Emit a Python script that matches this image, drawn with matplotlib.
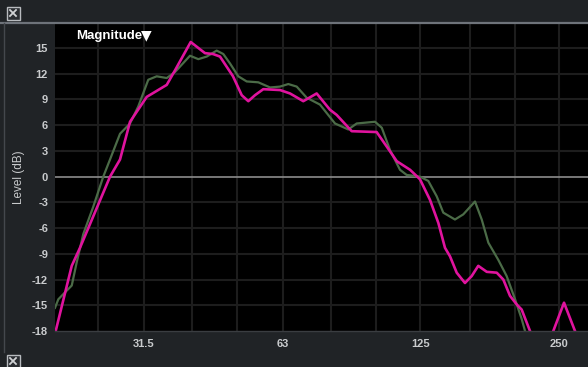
import matplotlib
matplotlib.use("Agg")
import matplotlib.pyplot as plt
from matplotlib.patches import Rectangle
from matplotlib.lines import Line2D

plt.rcParams['font.family'] = ['Liberation Sans', 'DejaVu Sans']

# ---- data ----
magenta_freq = [20.28, 21.97, 22.89, 26.59, 27.95, 29.38, 31.93, 35.28, 36.77, 39.76,
                42.70, 44.44, 46.01, 49.10, 51.28, 52.99, 54.79, 57.10, 62.06, 65.24,
                69.71, 74.52, 79.63, 82.33, 88.74, 100.5, 105.7, 111.1, 118.7, 124.7,
                131.1, 136.7, 141.3, 144.9, 149.8, 156.1, 161.4, 166.8, 174.0, 182.9,
                189.0, 195.4, 202.0, 207.1, 215.9, 226.9, 242.5, 255.8, 270.2, 288.3]
magenta_db = [-18.0, -10.4, -8.3, 0.0, 2.0, 6.4, 9.3, 10.7, 12.4, 15.7,
              14.4, 14.3, 14.0, 11.7, 9.5, 8.8, 9.5, 10.2, 10.1, 9.7,
              8.8, 9.7, 7.8, 7.2, 5.3, 5.2, 3.5, 1.8, 0.8, -0.3,
              -2.7, -5.4, -8.3, -9.3, -11.2, -12.4, -11.6, -10.4, -11.1, -11.2,
              -12.0, -13.9, -14.9, -15.5, -18.0, -21.0, -18.0, -14.7, -18.0, -21.0]

green_freq = [20.21, 20.55, 21.24, 21.97, 22.52, 23.27, 24.46, 25.71, 26.59, 27.95,
              29.38, 30.62, 32.18, 33.56, 35.28, 36.77, 39.62, 41.30, 43.06, 45.26,
              46.78, 48.37, 50.41, 52.57, 55.70, 59.05, 62.06, 64.69, 67.45, 70.91,
              75.76, 81.65, 87.25, 90.98, 99.68, 103.1, 107.4, 112.9, 116.7, 124.7,
              130.0, 135.6, 140.1, 148.5, 154.8, 164.1, 169.7, 175.4, 184.3, 192.2,
              200.4, 207.1, 210.6, 221.4]
green_db = [-15.3, -14.3, -13.5, -12.7, -10.0, -6.7, -3.5, 0.0, 2.0, 5.0,
            6.2, 8.2, 11.3, 11.7, 11.5, 12.2, 14.1, 13.7, 14.0, 14.7,
            14.3, 13.2, 11.7, 11.1, 11.0, 10.4, 10.5, 10.8, 10.5, 9.2,
            8.4, 6.2, 5.5, 6.2, 6.4, 5.7, 3.1, 0.8, 0.2, 0.0,
            -0.5, -2.3, -4.2, -5.0, -4.4, -2.9, -5.0, -7.7, -9.7, -11.6,
            -14.3, -16.6, -18.0, -22.0]

grid_freqs = [25, 31.5, 40, 50, 63, 80, 100, 125, 160, 200, 250]
xtick_freqs = [31.5, 63, 125, 250]
xtick_labels = ["31.5", "63", "125", "250"]
ytick_vals = [-18, -15, -12, -9, -6, -3, 0, 3, 6, 9, 12, 15]

# ---- figure ----
W, H = 588, 367
BG = "#202326"
fig = plt.figure(figsize=(W / 100, H / 100), dpi=100, facecolor=BG)

def fx(px):
    return px / W

def fy(py):
    return 1 - py / H

ax_l, ax_r, ax_t, ax_b = 55, 588, 24, 331
ax = fig.add_axes([fx(ax_l), fy(ax_b), fx(ax_r - ax_l), (ax_b - ax_t) / H])
ax.set_facecolor("black")
ax.set_xscale("log")
ax.set_xlim(20.21, 288.3)
ax.set_ylim(-18, 17.8)

for f in grid_freqs:
    ax.axvline(f, color="#1d1d1d", lw=1.5, zorder=1)
for v in range(-15, 18, 3):
    if v == 0:
        continue
    ax.axhline(v, color="#1d1d1d", lw=1.5, zorder=1)
ax.axhline(0, color="#8c8c8c", lw=1.2, zorder=2)

ax.plot(green_freq, green_db, color="#4b6b47", lw=1.6, zorder=3, solid_joinstyle="round")
ax.plot(magenta_freq, magenta_db, color="#e0139e", lw=1.9, zorder=4, solid_joinstyle="round")

ax.set_xticks(xtick_freqs)
ax.set_xticklabels(xtick_labels)
ax.set_xticks([], minor=True)
ax.set_yticks(ytick_vals)
ax.set_yticklabels([str(v) for v in ytick_vals])
ax.tick_params(axis="both", length=0, colors="#c9cbcd", labelsize=8)
ax.tick_params(axis="x", pad=6)
ax.tick_params(axis="y", pad=5)
for lab in ax.get_xticklabels() + ax.get_yticklabels():
    lab.set_fontweight("bold")
for s in ax.spines.values():
    s.set_visible(False)

ax.set_ylabel("Level (dB)", color="#c9cbcd", fontsize=8.5, labelpad=5)

fig.text(fx(76), fy(36), "Magnitude", color="white", fontsize=9.5,
         fontweight="bold", ha="left", va="center")
fig.text(fx(141), fy(35.5), "\u25BC", color="white", fontsize=10,
         family="DejaVu Sans", ha="left", va="center")

# top bar separator
fig.add_artist(Line2D([0, 1], [fy(22.8), fy(22.8)], color="#6e737a", lw=1.6))
# left panel vertical line
fig.add_artist(Line2D([fx(4), fx(4)], [fy(23), fy(352)], color="#44484d", lw=1.0))
# bottom edge line
fig.add_artist(Line2D([fx(ax_l), 1], [fy(331), fy(331)], color="#3a3d41", lw=1.0))

def xicon(px, py, size=13):
    fig.add_artist(Rectangle((fx(px), fy(py + size)), size / W, size / H,
                             facecolor="#2a2d31", edgecolor="#b8bbbf", lw=1.0))
    m = 3.5
    fig.add_artist(Line2D([fx(px + m), fx(px + size - m)], [fy(py + m), fy(py + size - m)],
                          color="#d0d2d4", lw=1.3))
    fig.add_artist(Line2D([fx(px + m), fx(px + size - m)], [fy(py + size - m), fy(py + m)],
                          color="#d0d2d4", lw=1.3))

xicon(6.5, 6.5)
xicon(6.5, 354.5)

fig.savefig("out.png", dpi=100, facecolor=BG)
